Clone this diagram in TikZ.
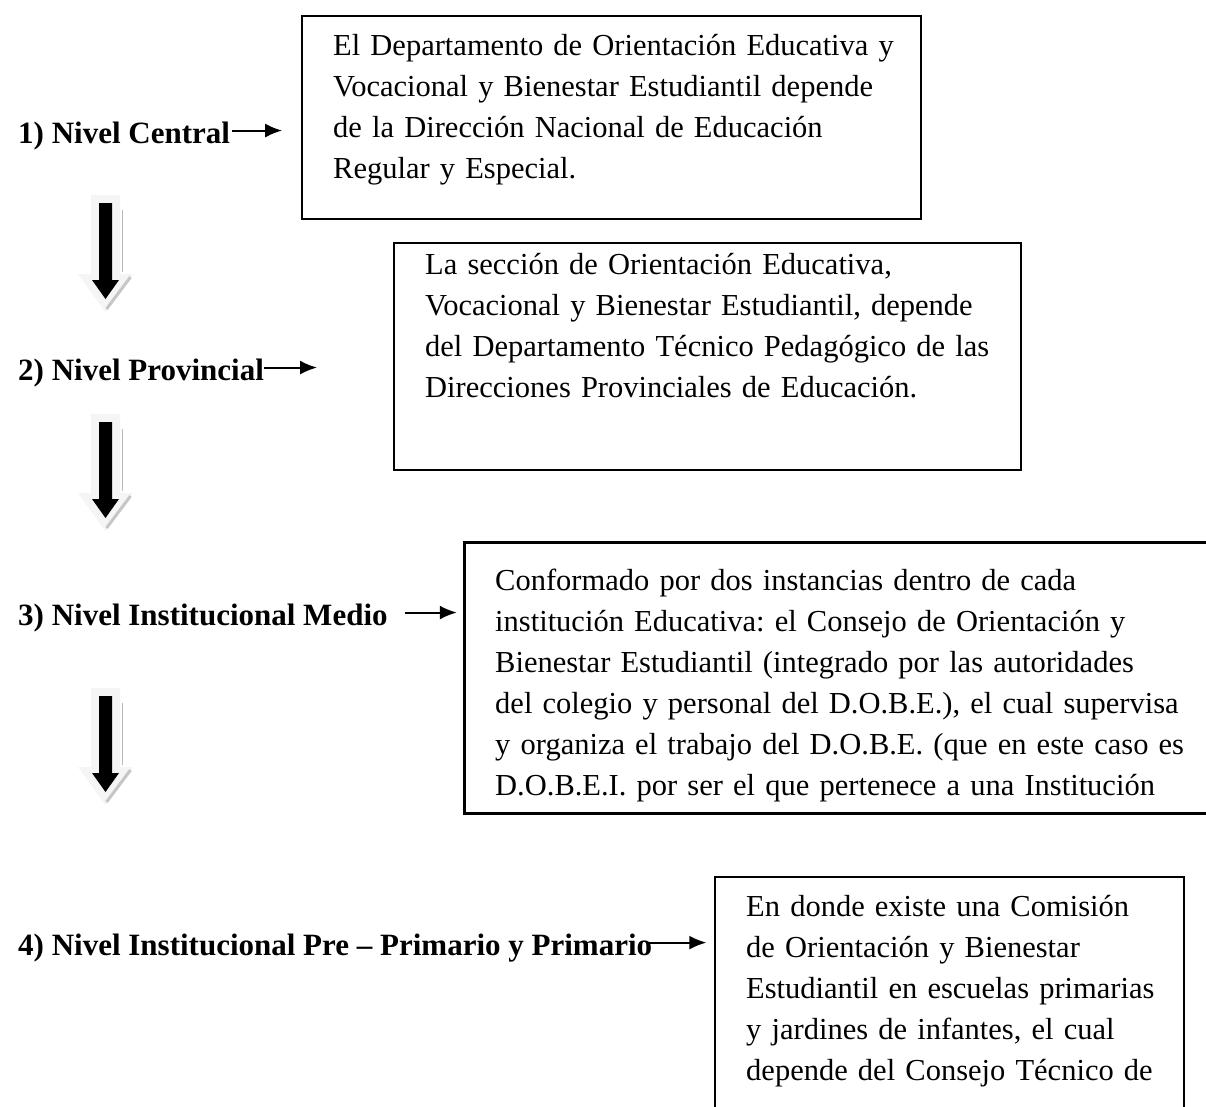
\documentclass[tikz,border=0pt]{standalone}
\usepackage{fontspec}
\setmainfont{Liberation Serif}
\usetikzlibrary{arrows.meta}
\begin{document}
\frenchspacing
\begin{tikzpicture}[x=1pt,y=-1pt,
  txt/.style={anchor=base west, inner sep=0pt, align=left, text width=#1,
    font=\fontsize{30.5}{41}\selectfont\frenchspacing},
  lbl/.style={anchor=base west, inner sep=0pt, font=\fontsize{31}{36}\selectfont\bfseries},
  boxa/.style={draw, line width=1.6pt, anchor=north west, inner sep=0pt},
  boxb/.style={draw, line width=3pt, anchor=north west, inner sep=0pt},
  sarrow/.style={-{Latex[length=17pt,width=14pt]}, line width=2pt},
  bigarrow/.pic={
    \fill[gray!8] (-14.5,0) -- (14.5,0) -- (14.5,79) -- (27.5,79) -- (0,117) -- (-27.5,79) -- (-14.5,79) -- cycle;
    \draw[gray!55, line width=1.5pt] (17,15) -- (17,77);
    \draw[gray!45, line width=3pt] (25,82) -- (1,114);
    \fill[black] (-6.5,8) -- (6.5,8) -- (6.5,85) -- (13.5,85) -- (0,104) -- (-13.5,85) -- (-6.5,85) -- cycle;
  }]
\useasboundingbox[fill=white] (0,0) rectangle (1206,1106);

% boxes
\node[boxa, minimum width=619pt, minimum height=203pt] (b1) at (301,15) {};
\node[boxa, minimum width=627pt, minimum height=227pt] (b2) at (393,242) {};
\node[boxb, minimum width=760pt, minimum height=271pt] (b3) at (463,541) {};
\node[boxa, minimum width=469pt, minimum height=260pt] (b4) at (714,876) {};

% box texts
\node[txt=600pt] (t1) at (333,55) {El Departamento de Orientación Educativa y\\
Vocacional y Bienestar Estudiantil depende\\
de la Dirección Nacional de Educación\\
Regular y Especial.};
\node[txt=600pt] (t2) at (425,274) {La sección de Orientación Educativa,\\
Vocacional y Bienestar Estudiantil, depende\\
del Departamento Técnico Pedagógico de las\\
Direcciones Provinciales de Educación.};
\node[txt=720pt] (t3) at (495,590) {Conformado por dos instancias dentro de cada\\
institución Educativa: el Consejo de Orientación y\\
Bienestar Estudiantil (integrado por las autoridades\\
del colegio y personal del D.O.B.E.), el cual supervisa\\
y organiza el trabajo del D.O.B.E. (que en este caso es\\
D.O.B.E.I. por ser el que pertenece a una Institución};
\node[txt=450pt] (t4) at (746,916) {En donde existe una Comisión\\
de Orientación y Bienestar\\
Estudiantil en escuelas primarias\\
y jardines de infantes, el cual\\
depende del Consejo Técnico de};

% labels
\node[lbl] (l1) at (18,143) {1) Nivel Central};
\node[lbl] (l2) at (18,380) {2) Nivel Provincial};
\node[lbl] (l3) at (18,625) {3) Nivel Institucional Medio};
\node[lbl] (l4) at (18,955) {4) Nivel Institucional Pre – Primario y Primario};

% small arrows
\draw[sarrow] ([xshift=2pt,yshift=5pt]l1.east) -- +(50,0);
\draw[sarrow] ([xshift=0pt,yshift=5pt]l2.east) -- +(53,0);
\draw[sarrow] ([xshift=17pt,yshift=5pt]l3.east) -- +(52,0);
\draw[sarrow] ([xshift=-4pt,yshift=5pt]l4.east) -- +(58,0);

% big down arrows
\pic at (105.5,195) {bigarrow};
\pic at (105.5,414) {bigarrow};
\pic at (105.5,688) {bigarrow};
\end{tikzpicture}
\end{document}
